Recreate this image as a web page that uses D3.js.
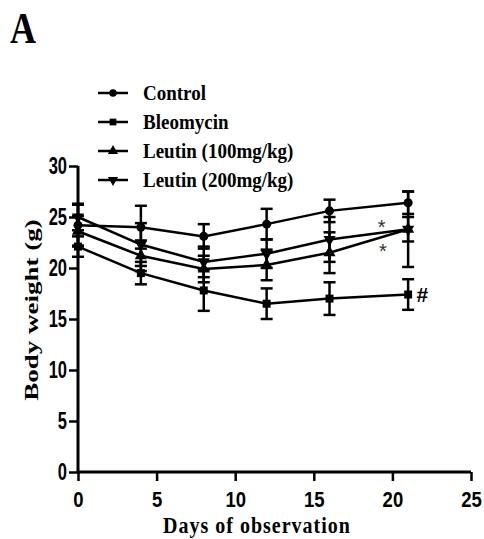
<!DOCTYPE html>
<html>
<head>
<meta charset="utf-8">
<script src="https://cdn.jsdelivr.net/npm/d3@7"></script>
<style>
  body { margin: 0; background: #fff; }
  text { fill: #000; }
</style>
</head>
<body>
<div id="chart"></div>
<script>
const width = 484, height = 539;

// data
const days = [0, 4, 8, 12, 16, 21];
const seriesNames = ["Control", "Bleomycin", "Leutin (100mg/kg)", "Leutin (200mg/kg)"];
const controlMean = [24.2, 24.0, 23.1, 24.3, 25.6, 26.4];
const controlErr = [2.0, 2.1, 1.2, 1.5, 1.1, 1.1];
const bleoMean = [22.1, 19.5, 17.8, 16.5, 17.0, 17.4];
const bleoErr = [1.0, 1.1, 2.0, 1.5, 1.6, 1.5];
const leu100Mean = [23.6, 21.2, 19.9, 20.3, 21.5, 23.8];
const leu100Err = [1.5, 1.5, 1.3, 1.5, 2.0, 3.7];
const leu200Mean = [25.0, 22.3, 20.6, 21.4, 22.8, 23.8];
const leu200Err = [1.3, 2.1, 1.5, 1.4, 2.2, 1.2];
const xTicks = [0, 5, 10, 15, 20, 25];
const yTicks = [0, 5, 10, 15, 20, 25, 30];

const series = [
  { name: seriesNames[0], mean: controlMean, err: controlErr, sym: d3.symbolCircle },
  { name: seriesNames[1], mean: bleoMean, err: bleoErr, sym: d3.symbolSquare },
  { name: seriesNames[2], mean: leu100Mean, err: leu100Err, sym: d3.symbolTriangle },
  { name: seriesNames[3], mean: leu200Mean, err: leu200Err, sym: d3.symbolTriangle, flip: true }
];

const svg = d3.select("#chart").append("svg")
    .attr("width", width)
    .attr("height", height);

const x = d3.scaleLinear().domain([0, 25]).range([78, 471]);
const y = d3.scaleLinear().domain([0, 30]).range([472, 166]);

const serif = "'Liberation Serif', 'Times New Roman', serif";
const sans = "'Liberation Sans', Arial, sans-serif";

// the source figure is stretched a bit vertically, so text gets a y-scale
function stretchedText(g, px, py, sy, txt) {
  return g.append("text")
      .attr("transform", `translate(${px},${py}) scale(1,${sy})`)
      .text(txt);
}

// panel letter
stretchedText(svg, 10, 43, 1.25, "A")
    .style("font-family", serif).style("font-weight", "bold")
    .style("font-size", "36px");

// axes
const xAxis = svg.append("g")
    .attr("transform", `translate(0,${y(0)})`)
    .call(d3.axisBottom(x).tickValues(xTicks).tickSize(9).tickPadding(8));
const yAxis = svg.append("g")
    .attr("transform", `translate(${x(0)},0)`)
    .call(d3.axisLeft(y).tickValues(yTicks).tickSize(9).tickPadding(2));

[xAxis, yAxis].forEach(g => {
  g.select(".domain").attr("stroke", "#000").attr("stroke-width", 3);
  g.selectAll(".tick line").attr("stroke", "#000").attr("stroke-width", 2.5);
  g.selectAll(".tick text")
    .style("font-family", sans).style("font-weight", "bold").style("fill", "#000");
});
xAxis.select(".domain").attr("d", `M${x(0)},0H${x(25)}`);
yAxis.select(".domain").attr("d", `M0,${y(0)}V${y(30)}`);
xAxis.selectAll(".tick text").style("font-size", "18.5px").attr("transform", "scale(1,1.15)");
yAxis.selectAll(".tick text").style("font-size", "16.5px").attr("transform", "scale(1,1.4)")
    .attr("dy", "0.34em");

// axis titles
stretchedText(svg, 257, 533, 1.15, "Days of observation")
    .attr("text-anchor", "middle")
    .style("letter-spacing", "1px")
    .style("font-family", serif).style("font-weight", "bold").style("font-size", "20px");
svg.append("text")
    .attr("transform", `translate(38,310) rotate(-90) scale(1.5,1)`)
    .attr("text-anchor", "middle")
    .style("font-family", serif).style("font-weight", "bold").style("font-size", "18px")
    .text("Body weight (g)");

const line = d3.line().x(d => x(d[0])).y(d => y(d[1]));
const plot = svg.append("g");

series.forEach(s => {
  const pts = days.map((d, i) => [d, s.mean[i], s.err[i]]);

  // error bars
  const eb = plot.append("g");
  pts.forEach(p => {
    eb.append("line")
        .attr("x1", x(p[0])).attr("x2", x(p[0]))
        .attr("y1", y(p[1] - p[2])).attr("y2", y(p[1] + p[2]))
        .attr("stroke", "#000").attr("stroke-width", 2.5);
    [p[1] - p[2], p[1] + p[2]].forEach(v => {
      eb.append("line")
          .attr("x1", x(p[0]) - 6).attr("x2", x(p[0]) + 6)
          .attr("y1", y(v)).attr("y2", y(v))
          .attr("stroke", "#000").attr("stroke-width", 2.5);
    });
  });

  plot.append("path")
      .datum(pts)
      .attr("d", line)
      .attr("fill", "none")
      .attr("stroke", "#000")
      .attr("stroke-width", 2.5);

  plot.selectAll(null)
      .data(pts)
      .enter().append("path")
      .attr("d", d3.symbol().type(s.sym).size(64))
      .attr("transform", d => `translate(${x(d[0])},${y(d[1])})${s.flip ? " rotate(180)" : ""}`)
      .attr("fill", "#000");
});

// significance marks
const marks = [
  { t: "*", day: 19.32, v: 24.5, dy: "0.57em", size: 20, w: "normal", fill: "#333" },
  { t: "*", day: 19.4, v: 22.1, dy: "0.57em", size: 20, w: "normal", fill: "#333" },
  { t: "#", day: 21.9, v: 17.45, dy: "0.36em", size: 21, w: "bold", fill: "#000" }
];
svg.selectAll(".mark")
    .data(marks)
    .enter().append("text")
    .attr("class", "mark")
    .attr("x", d => x(d.day)).attr("y", d => y(d.v))
    .attr("dy", d => d.dy)
    .attr("text-anchor", "middle")
    .style("font-family", sans).style("font-size", d => d.size + "px")
    .style("font-weight", d => d.w)
    .style("fill", d => d.fill)
    .text(d => d.t);

// legend
const legend = svg.append("g");
series.forEach((s, i) => {
  const ly = 93 + i * 29;
  legend.append("line")
      .attr("x1", 98).attr("x2", 128)
      .attr("y1", ly).attr("y2", ly)
      .attr("stroke", "#000").attr("stroke-width", 2.5);
  legend.append("path")
      .attr("d", d3.symbol().type(s.sym).size(45))
      .attr("transform", `translate(113,${ly})${s.flip ? " rotate(180)" : ""}`)
      .attr("fill", "#000");
  stretchedText(legend, 143, ly + 7, 1.1, s.name)
      .style("font-family", serif).style("font-weight", "bold").style("font-size", "19px");
});
</script>
</body>
</html>
